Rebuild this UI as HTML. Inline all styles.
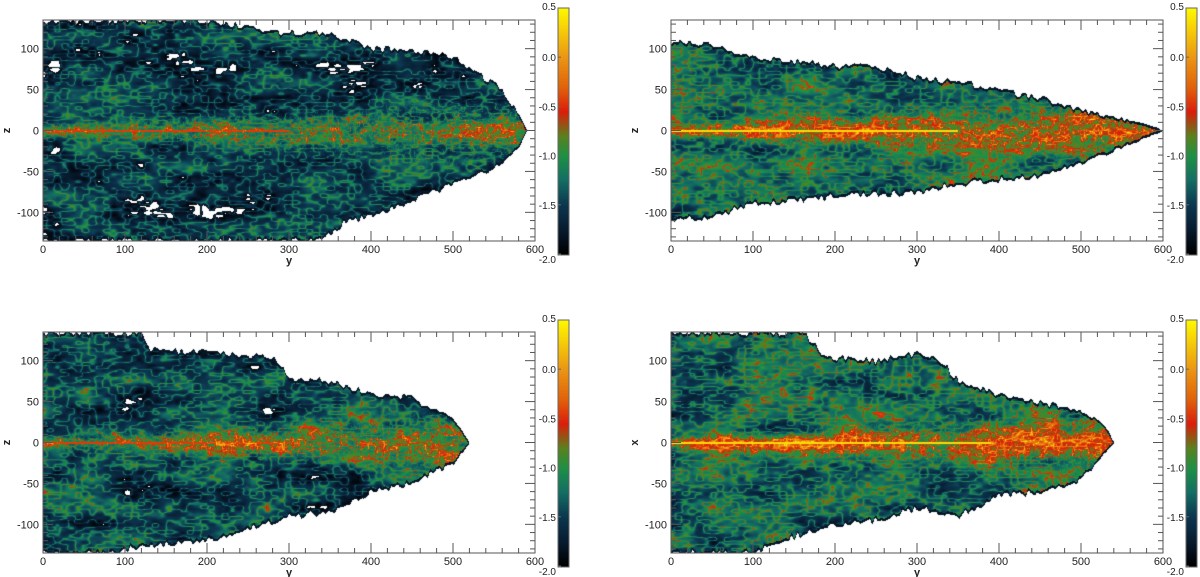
<!DOCTYPE html>
<html><head><meta charset="utf-8">
<style>
html,body{margin:0;padding:0;background:#fff;}
#root{position:relative;width:1200px;height:577px;overflow:hidden;font-family:"Liberation Sans",sans-serif;}
canvas{position:absolute;}
svg{position:absolute;left:0;top:0;}
</style></head>
<body>
<div id="root">
<canvas id="c0"></canvas>
<canvas id="c1"></canvas>
<canvas id="c2"></canvas>
<canvas id="c3"></canvas>
<canvas id="cb0"></canvas>
<canvas id="cb1"></canvas>
<canvas id="cb2"></canvas>
<canvas id="cb3"></canvas>
<svg id="ov" width="1200" height="577"></svg>
</div>
<script>
// ---- data ----
const xTicks = [0,100,200,300,400,500,600];
const yTicks = [-100,-50,0,50,100];
const cbTicks = [0.5,0.0,-0.5,-1.0,-1.5,-2.0];
const yAxisLabels = ["z","z","z","x"];
const env1Y = [0,210,280,350,400,450,500,530,560,580,590];
const env1Up = [135,135,120,120,100,100,90,70,50,20,0];
const env1LoY = [0,340,370,400,450,500,550,580,590];
const env1Lo = [-135,-135,-110,-105,-85,-65,-45,-20,0];
const env2Y = [0,50,100,150,200,250,300,350,400,450,500,550,590,600];
const env2Up = [110,105,90,85,80,80,65,60,50,40,25,15,5,0];
const env2LoY = [0,50,100,200,300,350,400,450,500,550,600];
const env2Lo = [-110,-105,-90,-80,-75,-65,-60,-55,-40,-20,0];
const env3Y = [0,120,130,280,300,350,400,450,500,520];
const env3Up = [135,135,115,105,80,75,60,55,30,0];
const env3LoY = [0,90,100,200,250,300,350,400,450,500,520];
const env3Lo = [-135,-135,-130,-120,-105,-90,-85,-60,-50,-25,0];
const env4Y = [0,160,190,250,300,330,350,400,450,500,530,540];
const env4Up = [135,135,105,100,110,100,75,60,50,40,20,0];
const env4LoY = [0,100,150,200,250,300,350,400,450,500,540];
const env4Lo = [-135,-135,-115,-100,-95,-80,-90,-65,-60,-45,0];
const coreLen = [0,350,0,390];
const greenBias = [-0.08,0.22,-0.03,0.2];
const panels = [
 {x0:43,y0:20,cb:558,up:[env1Y,env1Up],lo:[env1LoY,env1Lo]},
 {x0:671,y0:20,cb:1186,up:[env2Y,env2Up],lo:[env2LoY,env2Lo]},
 {x0:43,y0:332,cb:558,up:[env3Y,env3Up],lo:[env3LoY,env3Lo]},
 {x0:671,y0:332,cb:1186,up:[env4Y,env4Up],lo:[env4LoY,env4Lo]}
];
const PW=492, PH=221, ZMAX=135;
const sx = v => v/600*PW;
const sz = z => PH/2 - z/ZMAX*(PH/2);

function interp(xs,ys,x){
  if(x<=xs[0])return ys[0];
  for(let i=1;i<xs.length;i++){ if(x<=xs[i]){const t=(x-xs[i-1])/(xs[i]-xs[i-1]);return ys[i-1]+t*(ys[i]-ys[i-1]);} }
  return ys[ys.length-1];
}
const cmV=[-2.0,-1.75,-1.5,-1.25,-1.0,-0.8,-0.55,-0.3,0.0,0.5];
const cmC=[[0,0,0],[8,28,48],[12,55,80],[20,110,100],[30,145,70],[90,130,30],[220,30,10],[225,100,10],[235,150,20],[255,250,0]];
function cmap(v){
  if(v<=cmV[0])return cmC[0]; if(v>=cmV[cmV.length-1])return cmC[cmC.length-1];
  for(let i=1;i<cmV.length;i++) if(v<=cmV[i]){const t=(v-cmV[i-1])/(cmV[i]-cmV[i-1]);const a=cmC[i-1],b=cmC[i];return [a[0]+t*(b[0]-a[0]),a[1]+t*(b[1]-a[1]),a[2]+t*(b[2]-a[2])];}
}
function hash(i,j,s){let h=(i*374761393+j*668265263+s*982451653)|0;h=(h^(h>>>13))*1274126177|0;h=h^(h>>>16);return (h&0xffff)/65535;}
function vnoise(x,y,s){const i=Math.floor(x),j=Math.floor(y);const fx=x-i,fy=y-j;const u=fx*fx*(3-2*fx),w=fy*fy*(3-2*fy);
 const a=hash(i,j,s),b=hash(i+1,j,s),c=hash(i,j+1,s),d=hash(i+1,j+1,s);return a+(b-a)*u+(c-a)*w+(a-b-c+d)*u*w;}
function fbm(x,y,s){return 0.55*vnoise(x/45,y/16,s)+0.3*vnoise(x/14,y/7,s+7)+0.15*vnoise(x/5,y/3,s+13);}

panels.forEach((p,k)=>{
  const c=document.getElementById('c'+k);
  c.width=PW;c.height=PH;c.style.left=p.x0+'px';c.style.top=p.y0+'px';
  const ctx=c.getContext('2d');const img=ctx.createImageData(PW,PH);
  for(let py=0;py<PH;py++){for(let px=0;px<PW;px++){
    const yv=px/PW*600, z=ZMAX-py/PH*2*ZMAX;
    let up=interp(p.up[0],p.up[1],yv), lo=interp(p.lo[0],p.lo[1],yv);
    const wid=up-lo;
    const jit=Math.min(8,wid*0.1);
    up+=(vnoise(px/3,0,k+50)-0.5)*jit; lo-=(vnoise(px/3,5,k+60)-0.5)*jit;
    const o=(py*PW+px)*4;
    if(z>up||z<lo||wid<2){img.data[o]=255;img.data[o+1]=255;img.data[o+2]=255;img.data[o+3]=255;continue;}
    const edge=Math.min(up-z,z-lo);
    const w=7+yv*0.05;
    const g=Math.exp(-(z*z)/(w*w));
    let v=-1.5+greenBias[k]+0.6*g;
    const n=fbm(px,py,k*3+1);
    const r=1-Math.abs(2*vnoise(px/7,py/3.5,k+21)-1);
    const r2=1-Math.abs(2*vnoise(px/3,py/2.5,k+33)-1);
    v+=(n-0.5)*1.2 + Math.pow(r,6)*0.55 + Math.pow(r2,8)*0.7*g - (1-r)*0.15;
    if(edge<3) v=Math.min(v,-1.8);
    if(yv<coreLen[k] && Math.abs(z)<1.3) v=0.35;
    else if(coreLen[k]===0 && Math.abs(z)<1.8 && yv<300) v=Math.max(v,-0.45);
    let col;
    if(v<-1.95 && greenBias[k]<0.1 && edge>5) col=[255,255,255]; else col=cmap(v);
    img.data[o]=col[0];img.data[o+1]=col[1];img.data[o+2]=col[2];img.data[o+3]=255;
  }}
  ctx.putImageData(img,0,0);
  const cb=document.getElementById('cb'+k);const CBH=247;
  cb.width=11;cb.height=CBH;cb.style.left=p.cb+'px';cb.style.top=(p.y0-12)+'px';
  const cx=cb.getContext('2d');
  for(let i=0;i<CBH;i++){const v=0.5-i/(CBH-1)*2.5;const cc=cmap(v);cx.fillStyle=`rgb(${cc[0]|0},${cc[1]|0},${cc[2]|0})`;cx.fillRect(0,i,11,1);}
});

const NS='http://www.w3.org/2000/svg';
const ov=document.getElementById('ov');
function el(tag,attrs,txt){const e=document.createElementNS(NS,tag);for(const a in attrs)e.setAttribute(a,attrs[a]);if(txt!==undefined)e.textContent=txt;ov.appendChild(e);return e;}
panels.forEach((p,k)=>{
  const f=el('rect',{x:p.x0,y:p.y0,width:PW,height:PH,fill:'none',stroke:'#555','stroke-width':1});
  
  
  for(let t=0;t<=600;t+=20){const X=p.x0+sx(t);const L=(t%100===0)?10:5;
    el('line',{x1:X,y1:p.y0+PH,x2:X,y2:p.y0+PH-L,stroke:'#555'});
    el('line',{x1:X,y1:p.y0,x2:X,y2:p.y0+L,stroke:'#555'});}
  for(let t=-130;t<=130;t+=10){const Y=p.y0+sz(t);const L=(t%50===0)?10:5;
    el('line',{x1:p.x0,y1:Y,x2:p.x0+L,y2:Y,stroke:'#555'});
    el('line',{x1:p.x0+PW,y1:Y,x2:p.x0+PW-L,y2:Y,stroke:'#555'});}
  xTicks.forEach(t=>{const e=el('text',{x:p.x0+sx(t),y:p.y0+PH+12,'font-size':11,'text-anchor':'middle',fill:'#222'},String(t));
    
    });
  yTicks.forEach(t=>{const e=el('text',{x:p.x0-4,y:p.y0+sz(t)+4,'font-size':11,'text-anchor':'end',fill:'#222'},String(t));
    
    });
  const xt=el('text',{x:p.x0+sx(300),y:p.y0+PH+23,'font-size':11,'font-weight':'bold','text-anchor':'middle',fill:'#222'},'y');
  
  
  const yx=p.x0-33, yy=p.y0+PH/2;
  const yt=el('text',{x:yx,y:yy,'font-size':11,'font-weight':'bold','text-anchor':'middle',fill:'#222',transform:`rotate(-90 ${yx} ${yy})`},yAxisLabels[k]);
  
  
  const cby=p.y0-12;
  el('rect',{x:p.cb,y:cby,width:11,height:247,fill:'none',stroke:'#666'});
  cbTicks.forEach((t,i)=>{const Y=cby+(0.5-t)/2.5*246;
    el('line',{x1:p.cb,y1:Y,x2:p.cb+3,y2:Y,stroke:'#666'});
    const e=el('text',{x:p.cb-2,y:Y+(i===0?2:(i===5?9:4)),'font-size':10,'text-anchor':'end',fill:'#222'},t.toFixed(1));
    
    });
});
</script>
</body></html>
